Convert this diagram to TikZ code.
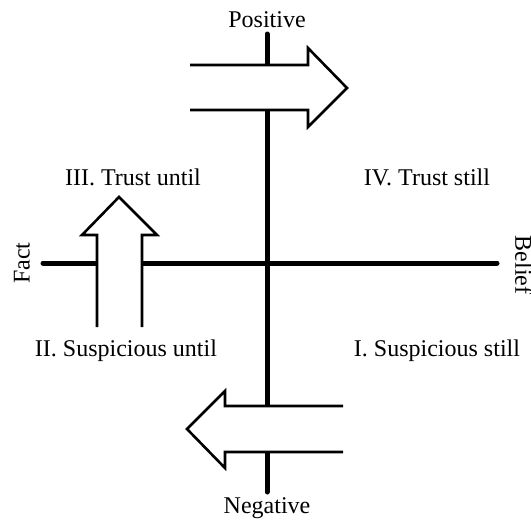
\documentclass[tikz,border=0pt]{standalone}
\usepackage{fontspec}
\setmainfont{Liberation Serif}
\begin{document}
\begin{tikzpicture}[x=1pt,y=-1pt,
  axis/.style={line width=5pt,line cap=round},
  fatarrow/.style={line width=2.6pt,line join=miter},
  lbl/.style={inner sep=0pt,font=\fontsize{24}{28}\selectfont}]
\useasboundingbox (0,0) rectangle (531,523);
% axes
\coordinate (vt) at (267,34);
\coordinate (vb) at (267,492);
\coordinate (hl) at (43,263);
\coordinate (hr) at (497,263);
\draw[axis] (vt) -- (vb);
\draw[axis] (hl) -- (hr);
% right-pointing arrow (top)
\fill[white] (190,65) -- (308,65) -- (308,48) -- (347,88) -- (308,127) -- (308,110) -- (190,110) -- cycle;
\draw[fatarrow] (190,65) -- (308,65) -- (308,48) -- (347,88) -- (308,127) -- (308,110) -- (190,110);
% left-pointing arrow (bottom)
\fill[white] (343,406) -- (225,406) -- (225,391) -- (187,429) -- (225,468) -- (225,452) -- (343,452) -- cycle;
\draw[fatarrow] (343,406) -- (225,406) -- (225,391) -- (187,429) -- (225,468) -- (225,452) -- (343,452);
% upward arrow (left)
\fill[white] (97,327) -- (97,235) -- (82,235) -- (119,197) -- (157,235) -- (142,235) -- (142,327) -- cycle;
\draw[fatarrow] (97,327) -- (97,235) -- (82,235) -- (119,197) -- (157,235) -- (142,235) -- (142,327);
% labels
\node[lbl] (pos) at (267,20) {Positive};
\node[lbl] (neg) at (267,508) {Negative};
\node[lbl,rotate=90] (fact) at (22,263) {Fact};
\node[lbl,rotate=-90,anchor=south] (belief) at (515,265) {Belief};
\node[lbl] (q3) at (133,177) {III. Trust until};
\node[lbl] (q4) at (427,177) {IV. Trust still};
\node[lbl] (q2) at (126,351) {II. Suspicious until};
\node[lbl] (q1) at (437,351) {I. Suspicious still};
\end{tikzpicture}
\end{document}
